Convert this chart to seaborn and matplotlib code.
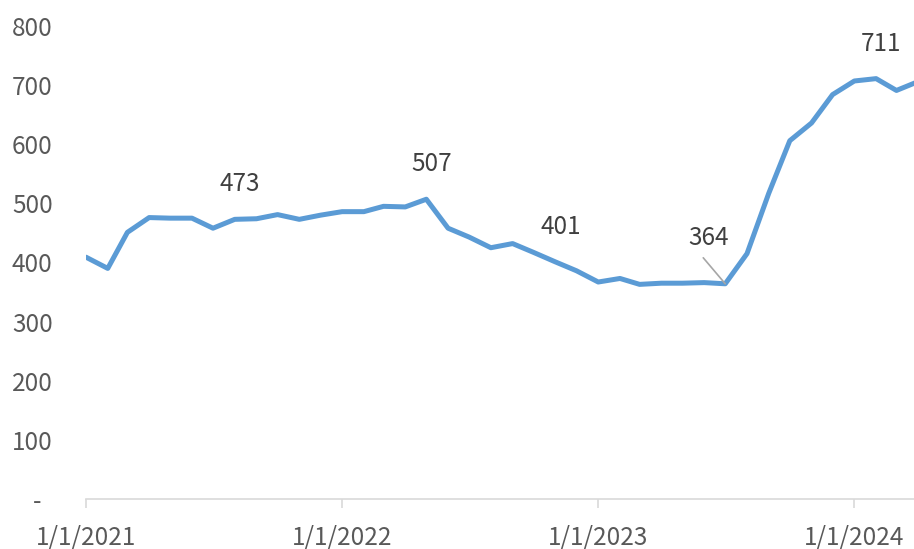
import matplotlib.pyplot as plt
import pandas as pd
import seaborn as sns

# monthly values, Jan 2021 - Apr 2024
months = pd.date_range("2021-01-01", "2024-04-01", freq="MS")
values = [
    409, 390, 451, 476, 475, 475, 458, 473, 474, 481, 473, 480,
    486, 486, 495, 494, 507, 458, 443, 425, 432, 417, 401, 386,
    367, 373, 363, 365, 365, 366, 364, 415, 517, 606, 636, 684,
    707, 711, 691, 706,
]
labelled_months = ["2021-08-01", "2022-05-01", "2022-11-01", "2023-07-01", "2024-02-01"]
tick_dates = ["2021-01-01", "2022-01-01", "2023-01-01", "2024-01-01"]
tick_labels = ["1/1/2021", "1/1/2022", "1/1/2023", "1/1/2024"]
y_ticks = [0, 100, 200, 300, 400, 500, 600, 700, 800]
y_labels = ["-  ", "100", "200", "300", "400", "500", "600", "700", "800"]

df = pd.DataFrame({"month": months, "value": values})

sns.set_theme(style="white")
plt.rcParams["font.family"] = ["Noto Sans CJK SC", "DejaVu Sans"]

fig = plt.figure(figsize=(9.14, 5.49), dpi=100)
ax = fig.add_axes([86 / 914, 1 - 499 / 549, (914 - 86) / 914, (499 - 26) / 549])

sns.lineplot(data=df, x="month", y="value", ax=ax, color="#5B9BD5", linewidth=3.6)

ax.set_ylim(0, 800)
ax.set_xlim(pd.Timestamp("2021-01-01"), pd.Timestamp("2024-03-26"))
ax.set_yticks(y_ticks)
ax.set_yticklabels(y_labels)
ax.set_xticks(pd.to_datetime(tick_dates))
ax.set_xticklabels(tick_labels)
ax.set_xlabel("")
ax.set_ylabel("")

for side in ["top", "right", "left"]:
    ax.spines[side].set_visible(False)
ax.spines["bottom"].set_color("#D9D9D9")
ax.spines["bottom"].set_linewidth(1.2)

ax.tick_params(axis="x", bottom=True, length=6.5, width=1.2, color="#D9D9D9",
               pad=12, labelsize=17.5, labelcolor="#595959")
ax.tick_params(axis="y", left=False, pad=18, labelsize=17.5, labelcolor="#595959")

# data labels
for m in labelled_months:
    ts = pd.Timestamp(m)
    v = df.loc[df["month"] == ts, "value"].iloc[0]
    if m == "2023-07-01":
        ax.annotate(str(v), xy=(ts, v), xytext=(-17, 46), textcoords="offset pixels",
                    ha="center", va="center", fontsize=17.5, color="#404040")
        ax.annotate("", xy=(ts, v), xytext=(-22, 26), textcoords="offset pixels",
                    arrowprops=dict(arrowstyle="-", color="#A6A6A6", lw=1.2,
                                    shrinkA=0, shrinkB=0))
    else:
        ax.annotate(str(v), xy=(ts, v), xytext=(5, 35), textcoords="offset pixels",
                    ha="center", va="center", fontsize=17.5, color="#404040")

fig.savefig("out.png", dpi=100)
